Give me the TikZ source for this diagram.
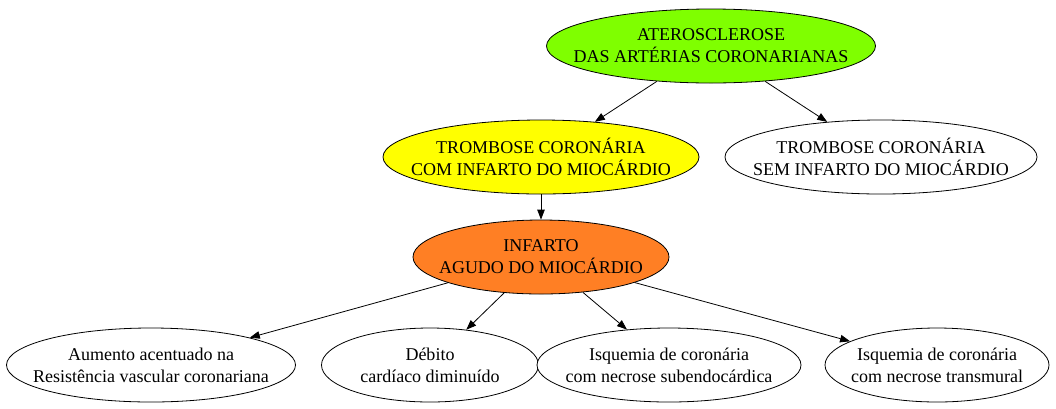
\documentclass[tikz,border=0pt]{standalone}
\usepackage{fontspec}
\setmainfont{Liberation Serif}
\usetikzlibrary{shapes.geometric,arrows.meta}
\definecolor{gvgreen}{RGB}{127,255,0}
\definecolor{gvyellow}{RGB}{255,255,0}
\definecolor{gvorange}{RGB}{255,127,36}
\tikzset{
  gv/.style={ellipse,draw=black,line width=0.8pt,inner sep=-40pt,align=center,
    font=\fontsize{18}{22}\selectfont,minimum height=74pt},
  arr/.style={line width=0.8pt,-{Triangle[length=10pt,width=7.5pt]}}
}
\begin{document}
\begin{tikzpicture}[x=1pt,y=-1pt]
\useasboundingbox (0,0) rectangle (1056,408);
\node[gv,fill=gvgreen,minimum width=329pt] (A) at (711,46) {ATEROSCLEROSE\\DAS ARTÉRIAS CORONARIANAS};
\node[gv,fill=gvyellow,minimum width=316pt] (B) at (541,157) {TROMBOSE CORONÁRIA\\COM INFARTO DO MIOCÁRDIO};
\node[gv,fill=white,minimum width=312pt] (C) at (881,157) {TROMBOSE CORONÁRIA\\SEM INFARTO DO MIOCÁRDIO};
\node[gv,fill=gvorange,minimum width=256pt] (D) at (541,257) {INFARTO\\AGUDO DO MIOCÁRDIO};
\node[gv,fill=white,minimum width=289pt] (E) at (151,365) {Aumento acentuado na\\Resistência vascular coronariana};
\node[gv,fill=white,minimum width=217pt] (F) at (430,365) {Débito\\cardíaco diminuído};
\node[gv,fill=white,minimum width=264pt] (G) at (669,365) {Isquemia de coronária\\com necrose subendocárdica};
\node[gv,fill=white,minimum width=224pt] (H) at (937,365) {Isquemia de coronária\\com necrose transmural};
\draw[arr] (A) -- (B);
\draw[arr] (A) -- (C);
\draw[arr] (B) -- (D);
\draw[arr] (D) -- (E);
\draw[arr] (D) -- (F);
\draw[arr] (D) -- (G);
\draw[arr] (D) -- (H);
\end{tikzpicture}
\end{document}
